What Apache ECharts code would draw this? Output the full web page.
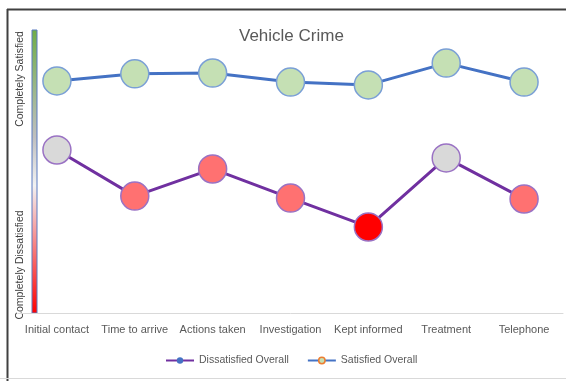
<!DOCTYPE html>
<html>
<head>
<meta charset="utf-8">
<script src="https://cdn.jsdelivr.net/npm/echarts@6/dist/echarts.min.js"></script>
<style>
  html, body { margin: 0; padding: 0; background: #fff; }
  #chart { width: 566px; height: 381px; }
</style>
</head>
<body>
<div id="chart"></div>
<script>
// categories along the x axis
var categories = ['Initial contact', 'Time to arrive', 'Actions taken', 'Investigation', 'Kept informed', 'Treatment', 'Telephone']
// values (scale 0..100, hidden axis)
var satisfiedOverall = [82.0, 84.5, 84.8, 81.6, 80.6, 88.3, 81.6]
var dissatisfiedOverall = [57.6, 41.3, 50.9, 40.6, 30.4, 54.8, 40.3]

var FONT = '"Liberation Sans", Arial, sans-serif'

// marker fill for dissatisfied points depends on how low the value is
function dissatColor(params) {
  var v = params.value
  if (v < 35) return '#FF0000'
  if (v < 52) return '#FF7171'
  return '#D9D9D9'
}

var chart = echarts.init(document.getElementById('chart'))

chart.setOption({
  animation: false,
  backgroundColor: '#fff',
  title: {
    text: 'Vehicle Crime',
    left: 234,
    top: 23,
    textStyle: { fontFamily: FONT, fontSize: 17, fontWeight: 'normal', color: '#595959' }
  },
  grid: { left: 18, right: 3, top: 30, bottom: 68 },
  xAxis: {
    type: 'category',
    data: categories,
    axisTick: { show: false },
    axisLine: { lineStyle: { color: '#D9D9D9', width: 1 } },
    axisLabel: { color: '#595959', fontSize: 11, fontFamily: FONT, margin: 11, interval: 0 }
  },
  yAxis: {
    type: 'value',
    min: 0,
    max: 100,
    show: false,
    splitLine: { show: false }
  },
  legend: {
    left: 160,
    top: 350,
    itemWidth: 28,
    itemHeight: 8,
    itemGap: 18,
    textStyle: { color: '#595959', fontSize: 10.5, fontFamily: FONT },
    data: [
      { name: 'Dissatisfied Overall', itemStyle: { color: '#4472C4', borderWidth: 0 } },
      { name: 'Satisfied Overall', itemStyle: { color: '#C5E0B4', borderColor: '#ED7D31', borderWidth: 1.5 } }
    ]
  },
  series: [
    {
      name: 'Dissatisfied Overall',
      type: 'line',
      data: dissatisfiedOverall,
      symbol: 'circle',
      symbolSize: 28,
      lineStyle: { color: '#7030A0', width: 3 },
      itemStyle: { color: dissatColor, borderColor: '#9A72C4', borderWidth: 1.5 }
    },
    {
      name: 'Satisfied Overall',
      type: 'line',
      data: satisfiedOverall,
      symbol: 'circle',
      symbolSize: 28,
      lineStyle: { color: '#4472C4', width: 3 },
      itemStyle: { color: '#C5E0B4', borderColor: '#7A9FD6', borderWidth: 1.5 }
    }
  ],
  graphic: [
    // sheet frame
    { type: 'line', shape: { x1: 7, y1: 9.5, x2: 566, y2: 9.5 }, style: { stroke: '#404040', lineWidth: 2 } },
    { type: 'line', shape: { x1: 7.5, y1: 9, x2: 7.5, y2: 381 }, style: { stroke: '#404040', lineWidth: 2 } },
    { type: 'line', shape: { x1: 0, y1: 378.5, x2: 566, y2: 378.5 }, style: { stroke: '#D9D9D9', lineWidth: 1 } },
    // colour scale bar
    {
      type: 'rect',
      shape: { x: 32, y: 30, width: 5, height: 283 },
      style: {
        fill: new echarts.graphic.LinearGradient(0, 0, 0, 1, [
          { offset: 0, color: '#70AD47' },
          { offset: 0.38, color: '#BFBFBF' },
          { offset: 0.55, color: '#F2F2F2' },
          { offset: 1, color: '#FF0000' }
        ]),
        stroke: '#5B7BC0',
        lineWidth: 1
      }
    },
    {
      type: 'text',
      x: 20, y: 79, rotation: Math.PI / 2,
      style: { text: 'Completely Satisfied', fill: '#404040', fontSize: 10.5, fontFamily: FONT, align: 'center', verticalAlign: 'middle' }
    },
    {
      type: 'text',
      x: 20, y: 265, rotation: Math.PI / 2,
      style: { text: 'Completely Dissatisfied', fill: '#404040', fontSize: 10.5, fontFamily: FONT, align: 'center', verticalAlign: 'middle' }
    }
  ]
})
</script>
</body>
</html>
